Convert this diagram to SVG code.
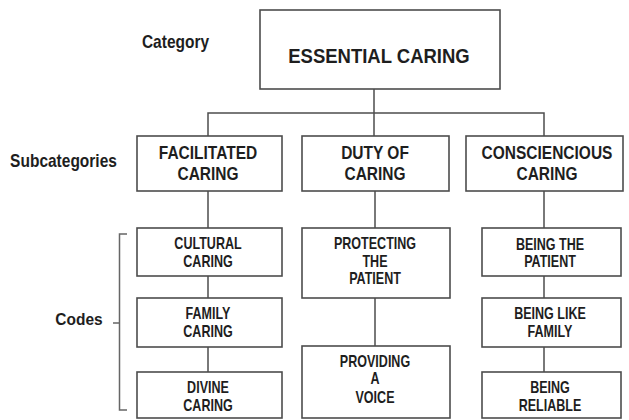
<svg xmlns="http://www.w3.org/2000/svg" width="629" height="420" viewBox="0 0 629 420">
  <style>
    .box { fill: #ffffff; stroke: #4d4d4d; stroke-width: 1.6; }
    .link { fill: none; stroke: #4d4d4d; stroke-width: 1.5; }
    .brace { fill: none; stroke: #666666; stroke-width: 1.5; }
    text { font-family: "Liberation Sans", Arial, sans-serif; font-weight: bold; fill: #1e1e1e; text-anchor: middle; }
    .title { font-size: 18.5px; }
    .label { font-size: 15.5px; }
    .sub { font-size: 15.5px; }
    .code { font-size: 16.5px; }
  </style>
  <rect width="629" height="420" fill="#ffffff"/>

  <!-- connectors -->
  <g id="connectors">
    <path class="link" d="M374,89 V136"/>
    <path class="link" d="M208,136 V113 H544 V136"/>
    <path class="link" d="M208,191 V228 M208,276 V298 M208,347 V372"/>
    <path class="link" d="M375,191 V228 M375,298 V346"/>
    <path class="link" d="M544,191 V228 M544,276 V298 M544,347 V372"/>
  </g>

  <!-- level labels -->
  <g id="labels">
    <text class="label" transform="translate(175.5,48) scale(1,1.2)">Category</text>
    <text class="label" transform="translate(63.5,167) scale(1,1.17)">Subcategories</text>
    <text class="label" transform="translate(79,325) scale(1,1.12)">Codes</text>
    <path class="brace" d="M127,234 H119.5 V410 H127 M119.5,323 H113"/>
  </g>

  <!-- category -->
  <g id="essential-caring">
    <rect class="box" x="260" y="10" width="240" height="79"/>
    <text class="title" transform="translate(379,63) scale(1,1.13)">ESSENTIAL CARING</text>
  </g>

  <!-- subcategories -->
  <g id="facilitated-caring">
    <rect class="box" x="137" y="136" width="145" height="55"/>
    <text class="sub" transform="translate(208,159) scale(1,1.17)">FACILITATED</text>
    <text class="sub" transform="translate(208,180) scale(1,1.17)">CARING</text>
  </g>
  <g id="duty-of-caring">
    <rect class="box" x="302" y="136" width="147" height="55"/>
    <text class="sub" transform="translate(375,159) scale(1,1.17)">DUTY OF</text>
    <text class="sub" transform="translate(375,180) scale(1,1.17)">CARING</text>
  </g>
  <g id="consciencious-caring">
    <rect class="box" x="466" y="136" width="157" height="55"/>
    <text class="sub" transform="translate(547,159) scale(1,1.17)">CONSCIENCIOUS</text>
    <text class="sub" transform="translate(547,180) scale(1,1.17)">CARING</text>
  </g>

  <!-- codes: facilitated caring -->
  <g id="cultural-caring">
    <rect class="box" x="137" y="228" width="145" height="48"/>
    <text class="code" transform="translate(208,249) scale(0.76,1)">CULTURAL</text>
    <text class="code" transform="translate(208,267) scale(0.76,1)">CARING</text>
  </g>
  <g id="family-caring">
    <rect class="box" x="137" y="298" width="145" height="49"/>
    <text class="code" transform="translate(208,319) scale(0.76,1)">FAMILY</text>
    <text class="code" transform="translate(208,337) scale(0.76,1)">CARING</text>
  </g>
  <g id="divine-caring">
    <rect class="box" x="137" y="372" width="145" height="46"/>
    <text class="code" transform="translate(208,393) scale(0.76,1)">DIVINE</text>
    <text class="code" transform="translate(208,411) scale(0.76,1)">CARING</text>
  </g>

  <!-- codes: duty of caring -->
  <g id="protecting-the-patient">
    <rect class="box" x="302" y="228" width="148" height="70"/>
    <text class="code" transform="translate(375,249) scale(0.76,1)">PROTECTING</text>
    <text class="code" transform="translate(375,267) scale(0.76,1)">THE</text>
    <text class="code" transform="translate(375,284) scale(0.76,1)">PATIENT</text>
  </g>
  <g id="providing-a-voice">
    <rect class="box" x="302" y="346" width="148" height="72"/>
    <text class="code" transform="translate(375,367) scale(0.76,1)">PROVIDING</text>
    <text class="code" transform="translate(375,384) scale(0.76,1)">A</text>
    <text class="code" transform="translate(375,403) scale(0.76,1)">VOICE</text>
  </g>

  <!-- codes: consciencious caring -->
  <g id="being-the-patient">
    <rect class="box" x="482" y="228" width="139" height="48"/>
    <text class="code" transform="translate(550,250) scale(0.76,1)">BEING THE</text>
    <text class="code" transform="translate(550,267) scale(0.76,1)">PATIENT</text>
  </g>
  <g id="being-like-family">
    <rect class="box" x="482" y="298" width="139" height="49"/>
    <text class="code" transform="translate(550,319) scale(0.76,1)">BEING LIKE</text>
    <text class="code" transform="translate(550,337) scale(0.76,1)">FAMILY</text>
  </g>
  <g id="being-reliable">
    <rect class="box" x="482" y="372" width="139" height="46"/>
    <text class="code" transform="translate(550,393) scale(0.76,1)">BEING</text>
    <text class="code" transform="translate(550,411) scale(0.76,1)">RELIABLE</text>
  </g>
</svg>
